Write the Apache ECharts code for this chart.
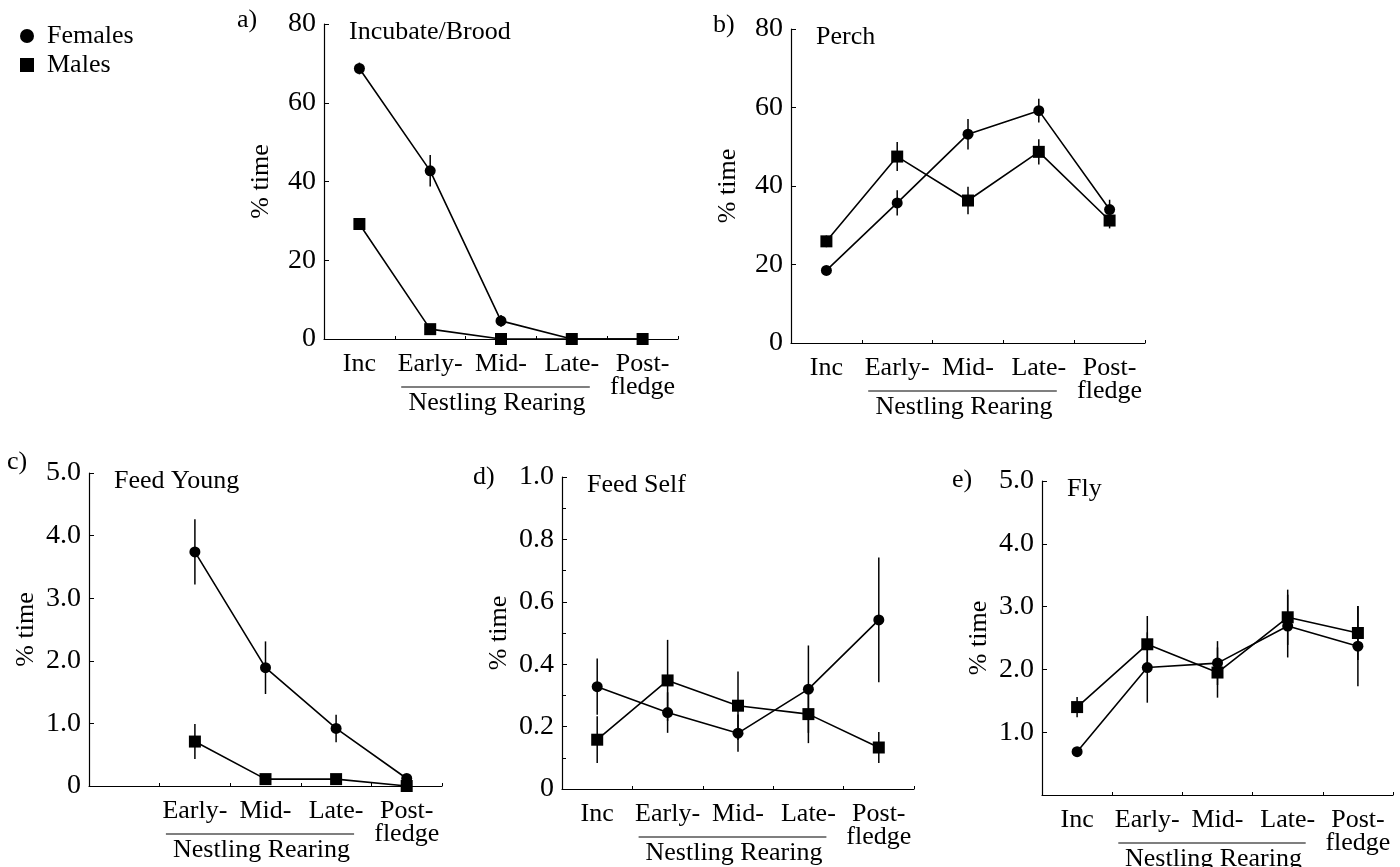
<!DOCTYPE html>
<html>
<head>
<meta charset="utf-8">
<script src="https://cdn.jsdelivr.net/npm/echarts@6/dist/echarts.min.js"></script>
<style>
  html, body { margin: 0; padding: 0; background: #fff; }
  #chart { width: 1400px; height: 867px; }
</style>
</head>
<body>
<div id="chart"></div>
<script>
// stages along the x axis
const stages = ['Inc', 'Early-', 'Mid-', 'Late-', 'Post-\nfledge'];
const stagesNoInc = ['', 'Early-', 'Mid-', 'Late-', 'Post-\nfledge'];

// a) Incubate/Brood
const incFemales = [68.7, 42.7, 4.6, 0, 0];
const incFemalesSE = [1.5, 4, 1.5, 0, 0];
const incMales = [29.2, 2.5, 0, 0, 0];
const incMalesSE = [1.5, 0, 0, 0, 0];

// b) Perch
const perchFemales = [18.5, 35.7, 53.2, 59.2, 34.0];
const perchFemalesSE = [1, 3.2, 3.9, 3, 2.5];
const perchMales = [25.9, 47.5, 36.3, 48.7, 31.2];
const perchMalesSE = [1.5, 3.7, 3.5, 3.2, 2];

// c) Feed Young (no data during incubation)
const feedYoungFemales = [null, 3.74, 1.89, 0.92, 0.12];
const feedYoungFemalesSE = [null, 0.52, 0.42, 0.22, 0.05];
const feedYoungMales = [null, 0.71, 0.11, 0.11, 0];
const feedYoungMalesSE = [null, 0.28, 0, 0, 0];

// d) Feed Self
const feedSelfFemales = [0.328, 0.245, 0.179, 0.32, 0.542];
const feedSelfFemalesSE = [0.09, 0.065, 0.06, 0.14, 0.2];
const feedSelfMales = [0.158, 0.348, 0.267, 0.24, 0.133];
const feedSelfMalesSE = [0.075, 0.13, 0.11, 0.093, 0.05];

// e) Fly
const flyFemales = [0.69, 2.03, 2.10, 2.69, 2.37];
const flyFemalesSE = [0.05, 0.56, 0.35, 0.5, 0.64];
const flyMales = [1.40, 2.40, 1.95, 2.83, 2.58];
const flyMalesSE = [0.16, 0.45, 0.4, 0.44, 0.43];

const FONT = "'Liberation Serif', 'Times New Roman', serif";

const panels = [
  { letter: 'a)', title: 'Incubate/Brood', cats: stages, max: 80, interval: 20,
    fem: incFemales, femSE: incFemalesSE, mal: incMales, malSE: incMalesSE,
    grid: { left: 324, top: 24, width: 354, height: 315 },
    fmt: v => String(v), letterPos: [237, 7] },
  { letter: 'b)', title: 'Perch', cats: stages, max: 80, interval: 20,
    fem: perchFemales, femSE: perchFemalesSE, mal: perchMales, malSE: perchMalesSE,
    grid: { left: 791, top: 29, width: 354, height: 314 },
    fmt: v => String(v), letterPos: [713, 12] },
  { letter: 'c)', title: 'Feed Young', cats: stagesNoInc, max: 5, interval: 1,
    fem: feedYoungFemales, femSE: feedYoungFemalesSE, mal: feedYoungMales, malSE: feedYoungMalesSE,
    grid: { left: 89, top: 473, width: 353, height: 313 },
    fmt: v => v === 0 ? '0' : v.toFixed(1), letterPos: [7, 449] },
  { letter: 'd)', title: 'Feed Self', cats: stages, max: 1, interval: 0.2,
    fem: feedSelfFemales, femSE: feedSelfFemalesSE, mal: feedSelfMales, malSE: feedSelfMalesSE,
    grid: { left: 562, top: 477, width: 352, height: 312 },
    fmt: v => v === 0 ? '0' : v.toFixed(1), letterPos: [473, 464], minor: true },
  { letter: 'e)', title: 'Fly', cats: stages, max: 5, interval: 1,
    fem: flyFemales, femSE: flyFemalesSE, mal: flyMales, malSE: flyMalesSE,
    grid: { left: 1042, top: 481, width: 351, height: 314 },
    fmt: v => v === 0 ? '' : v.toFixed(1), letterPos: [952, 467] }
];

function errData(vals, se) {
  const out = [];
  vals.forEach((v, i) => {
    if (v != null && se[i]) out.push([i, v - se[i], v + se[i]]);
  });
  return out;
}

function renderErr(params, api) {
  const lo = api.coord([api.value(0), api.value(1)]);
  const hi = api.coord([api.value(0), api.value(2)]);
  return {
    type: 'line',
    shape: { x1: lo[0], y1: lo[1], x2: hi[0], y2: hi[1] },
    style: { stroke: '#000', lineWidth: 1.5 }
  };
}

const grid = [], xAxis = [], yAxis = [], series = [], title = [];
panels.forEach((p, i) => {
  grid.push(p.grid);
  title.push({ text: p.letter, left: p.letterPos[0], top: p.letterPos[1], padding: 0,
    textStyle: { fontFamily: FONT, fontSize: 26, fontWeight: 'normal', color: '#000' } });
  title.push({ text: p.title, left: p.grid.left + 25, top: p.grid.top - 5, padding: 0,
    textStyle: { fontFamily: FONT, fontSize: 26, fontWeight: 'normal', color: '#000' } });
  xAxis.push({
    type: 'category', gridIndex: i, data: p.cats, boundaryGap: true,
    axisLine: { lineStyle: { color: '#000', width: 1.2 } },
    axisTick: { show: true, inside: true, length: 3, lineStyle: { color: '#000' } },
    axisLabel: { color: '#000', fontFamily: FONT, fontSize: 26, margin: 14, lineHeight: 23, interval: 0 },
    splitLine: { show: false }
  });
  yAxis.push({
    type: 'value', gridIndex: i, min: 0, max: p.max, interval: p.interval,
    name: '% time', nameLocation: 'middle', nameGap: 50, nameRotate: 90,
    nameTextStyle: { fontFamily: FONT, fontSize: 26, color: '#000' },
    axisLine: { show: true, lineStyle: { color: '#000', width: 1.2 } },
    axisTick: { show: true, inside: true, length: 5, lineStyle: { color: '#000' } },
    minorTick: { show: !!p.minor, splitNumber: 2, length: 4, lineStyle: { color: '#000' } },
    axisLabel: { color: '#000', fontFamily: FONT, fontSize: 28, margin: 8, formatter: p.fmt },
    splitLine: { show: false }
  });
  series.push({
    name: 'Females', type: 'line', xAxisIndex: i, yAxisIndex: i, data: p.fem,
    symbol: 'circle', symbolSize: 11, z: 3,
    itemStyle: { color: '#000' }, lineStyle: { color: '#000', width: 1.6 }
  });
  series.push({
    name: 'Males', type: 'line', xAxisIndex: i, yAxisIndex: i, data: p.mal,
    symbol: 'rect', symbolSize: 12, z: 4,
    itemStyle: { color: '#000' }, lineStyle: { color: '#000', width: 1.6 }
  });
  series.push({
    name: 'femErr' + i, type: 'custom', xAxisIndex: i, yAxisIndex: i, z: 2,
    data: errData(p.fem, p.femSE), renderItem: renderErr, encode: { x: 0, y: [1, 2] }
  });
  series.push({
    name: 'malErr' + i, type: 'custom', xAxisIndex: i, yAxisIndex: i, z: 2,
    data: errData(p.mal, p.malSE), renderItem: renderErr, encode: { x: 0, y: [1, 2] }
  });
});

const chart = echarts.init(document.getElementById('chart'));
chart.setOption({
  animation: false,
  backgroundColor: '#fff',
  title: title,
  legend: {
    orient: 'vertical', left: 15, top: 18, itemGap: 3, itemWidth: 14, itemHeight: 14,
    data: [{ name: 'Females', icon: 'circle' }, { name: 'Males', icon: 'rect' }],
    textStyle: { fontFamily: FONT, fontSize: 26, color: '#000', padding: [0, 0, 0, 8] },
    selectedMode: false
  },
  grid: grid,
  xAxis: xAxis,
  yAxis: yAxis,
  series: series
});

// "Nestling Rearing" bracket under Early-/Mid-/Late-
const graphics = [];
panels.forEach((p, i) => {
  const xE = chart.convertToPixel({ xAxisIndex: i }, 1);
  const xM = chart.convertToPixel({ xAxisIndex: i }, 2);
  const xL = chart.convertToPixel({ xAxisIndex: i }, 3);
  const y0 = chart.convertToPixel({ yAxisIndex: i }, 0);
  graphics.push({
    type: 'line', shape: { x1: xE - 29, y1: y0 + 48, x2: xL + 18, y2: y0 + 48 },
    style: { stroke: '#000', lineWidth: 1.2 }
  });
  graphics.push({
    type: 'text', x: xM - 4, y: y0 + 51,
    style: { text: 'Nestling Rearing', font: '26px ' + FONT, fill: '#000', textAlign: 'center', textVerticalAlign: 'top' }
  });
});
chart.setOption({ graphic: graphics });
</script>
</body>
</html>
